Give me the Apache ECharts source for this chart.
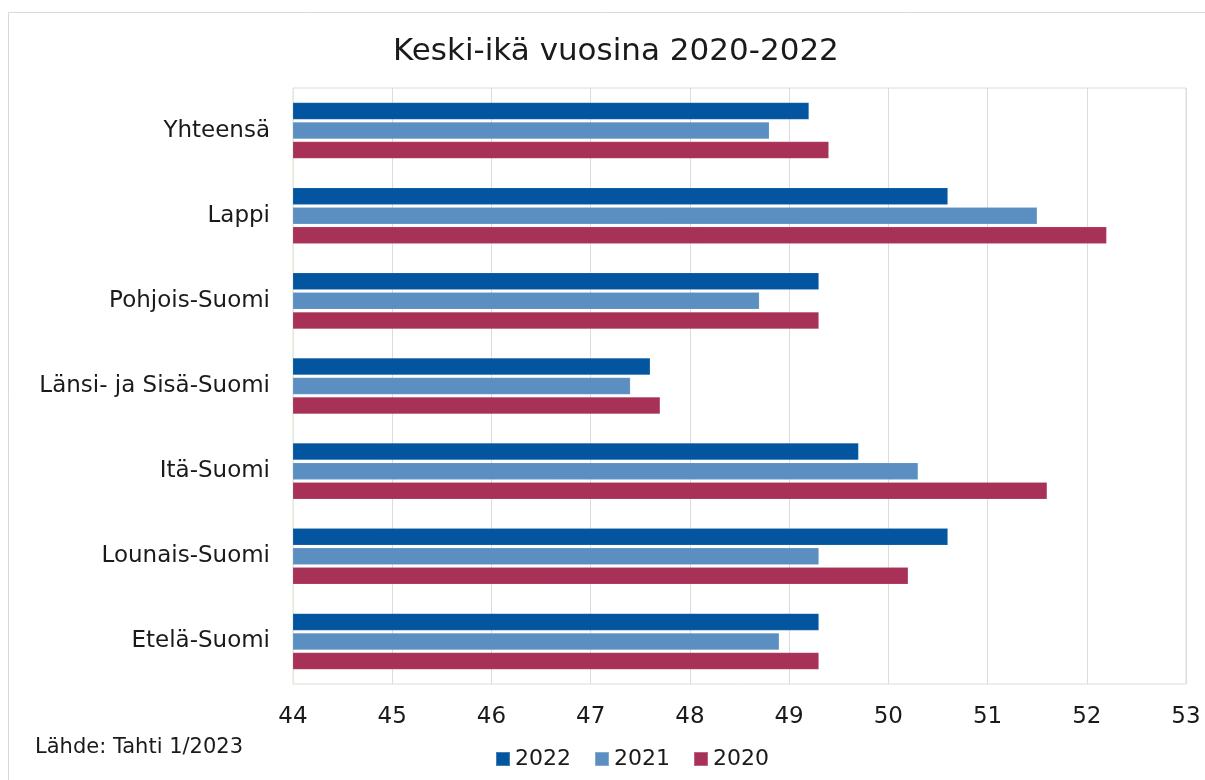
<!DOCTYPE html>
<html>
<head>
<meta charset="utf-8">
<script src="https://cdn.jsdelivr.net/npm/echarts@6/dist/echarts.min.js"></script>
<style>
  html, body { margin: 0; padding: 0; background: #fff; }
  #chart { width: 1205px; height: 780px; }
</style>
</head>
<body>
<div id="chart"></div>
<script>
// categories listed bottom -> top (category axis starts at the bottom)
var regions = ['Etelä-Suomi', 'Lounais-Suomi', 'Itä-Suomi', 'Länsi- ja Sisä-Suomi', 'Pohjois-Suomi', 'Lappi', 'Yhteensä'];
var age2022 = [49.3, 50.6, 49.7, 47.6, 49.3, 50.6, 49.2];
var age2021 = [48.9, 49.3, 50.3, 47.4, 48.7, 51.5, 48.8];
var age2020 = [49.3, 50.2, 51.6, 47.7, 49.3, 52.2, 49.4];
var years = ['2022', '2021', '2020'];
var colors = ['#03559f', '#5b8fc2', '#a83158'];

var FONT = 'DejaVu Sans';
var myChart = echarts.init(document.getElementById('chart'));

var barStyle = { borderColor: 'rgba(255,255,255,0.25)', borderWidth: 0.5 };

var option = {
    animation: false,
    color: colors,
    title: {
        text: 'Keski-ikä vuosina 2020-2022',
        left: 388,
        top: 31,
        textStyle: { fontFamily: FONT, fontSize: 31, fontWeight: 'normal', color: '#1a1a1a' }
    },
    legend: {
        data: years,
        left: 490,
        top: 743,
        itemWidth: 14,
        itemHeight: 14,
        itemGap: 23,
        icon: 'rect',
        textStyle: { fontFamily: FONT, fontSize: 22, color: '#1a1a1a' }
    },
    grid: {
        left: 293,
        right: 19,
        top: 88,
        bottom: 96,
        show: true,
        borderColor: '#dcdcdc',
        borderWidth: 1
    },
    xAxis: {
        type: 'value',
        min: 44,
        max: 53,
        interval: 1,
        axisLine: { show: false },
        axisTick: { show: false },
        splitLine: { lineStyle: { color: '#dcdcdc', width: 1 } },
        axisLabel: { margin: 22, fontFamily: FONT, fontSize: 23, color: '#1a1a1a' }
    },
    yAxis: {
        type: 'category',
        data: regions,
        axisLine: { show: true, lineStyle: { color: '#dff0d0', width: 1 } },
        axisTick: { show: false },
        axisLabel: { margin: 23, fontFamily: FONT, fontSize: 23, color: '#1a1a1a' }
    },
    series: [
        { name: '2022', type: 'bar', data: age2022, barWidth: 17, barGap: '15%', itemStyle: barStyle },
        { name: '2021', type: 'bar', data: age2021, barWidth: 17, barGap: '15%', itemStyle: barStyle },
        { name: '2020', type: 'bar', data: age2020, barWidth: 17, barGap: '15%', itemStyle: barStyle }
    ],
    graphic: [
        {
            type: 'rect',
            silent: true,
            shape: { x: 8.5, y: 12.5, width: 1240, height: 820 },
            style: { fill: 'none', stroke: '#d9d9d9', lineWidth: 1 }
        },
        {
            type: 'text',
            left: 35,
            top: 737,
            style: { text: 'Lähde: Tahti 1/2023', fontFamily: FONT, fontSize: 21, fill: '#1a1a1a' }
        }
    ]
};

myChart.setOption(option);
</script>
</body>
</html>
